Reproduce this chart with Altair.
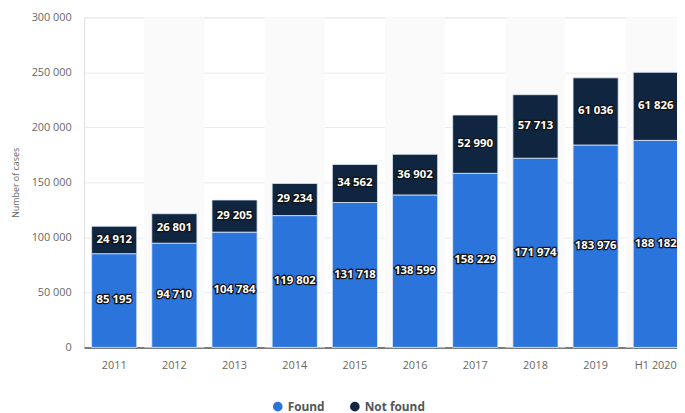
import altair as alt
import pandas as pd

years = ["2011", "2012", "2013", "2014", "2015", "2016", "2017", "2018", "2019", "H1 2020"]
found = [85195, 94710, 104784, 119802, 131718, 138599, 158229, 171974, 183976, 188182]
not_found = [24912, 26801, 29205, 29234, 34562, 36902, 52990, 57713, 61036, 61826]
shaded = ["2012", "2014", "2016", "2018", "H1 2020"]
y_ticks = [0, 50000, 100000, 150000, 200000, 250000, 300000]

def fmt(v):
    return f"{v:,}".replace(",", " ")

rows = []
for y, f, n in zip(years, found, not_found):
    rows.append({"year": y, "series": "Found", "value": f, "order": 0, "mid": f / 2, "label": fmt(f)})
    rows.append({"year": y, "series": "Not found", "value": n, "order": 1, "mid": f + n / 2, "label": fmt(n)})
df = pd.DataFrame(rows)
stripes = pd.DataFrame({"year": shaded})

W, H = 600, 334
XR = [0, 609]

xs = alt.X("year:N", sort=years,
           scale=alt.Scale(domain=years, paddingInner=0.25, paddingOuter=0.125, range=XR),
           axis=alt.Axis(title=None, labelAngle=0, labelColor="#666", labelFont="Open Sans",
                         labelFontSize=11, domain=True, domainColor="#555", domainWidth=1.5,
                         ticks=False, labelPadding=12))

stripe_layer = alt.Chart(stripes).mark_rect(color="#fafafa").encode(
    x=alt.X("year:N", scale=alt.Scale(domain=years, paddingInner=0, paddingOuter=0, range=XR), axis=None),
    y=alt.value(0), y2=alt.value(H)
)

ys = alt.Y("value:Q", stack="zero",
           scale=alt.Scale(domain=[0, 300000], nice=False),
           axis=alt.Axis(title="Number of cases", values=y_ticks,
                         labelExpr="replace(format(datum.value, ','), regexp(',', 'g'), ' ')",
                         labelColor="#666", labelFont="Open Sans", labelFontSize=11,
                         titleColor="#666", titleFont="Open Sans", titleFontSize=9,
                         titleFontWeight="normal", titlePadding=11,
                         domain=False, ticks=False, gridColor="#ececec", labelPadding=13))

bars = alt.Chart(df).mark_bar(stroke="#dfe9f7", strokeWidth=0.8).encode(
    x=xs, y=ys,
    color=alt.Color("series:N", sort=["Found", "Not found"],
                    scale=alt.Scale(domain=["Found", "Not found"], range=["#2b74dc", "#0f2540"]),
                    legend=alt.Legend(title=None, orient="none", legendX=190, legendY=388,
                                      direction="horizontal", symbolType="circle", symbolSize=95,
                                      labelFont="Open Sans", labelFontSize=12, labelFontWeight="bold",
                                      labelColor="#555", columnPadding=24, symbolStrokeWidth=0)),
    order=alt.Order("order:Q")
)

ymid = alt.Y("mid:Q", scale=alt.Scale(domain=[0, 300000], nice=False))
xt = alt.X("year:N", sort=years)
shadow = alt.Chart(df).mark_text(font="Open Sans", fontWeight="bold", fontSize=11.5,
                                 color="#111", stroke="#111", strokeWidth=2.5).encode(
    x=xt, y=ymid, text="label:N")
labels = alt.Chart(df).mark_text(font="Open Sans", fontWeight="bold", fontSize=11.5,
                                 color="white").encode(
    x=xt, y=ymid, text="label:N")

main = alt.layer(bars, shadow, labels)

chart = alt.layer(stripe_layer, main).resolve_scale(x="independent").properties(
    width=W, height=H,
    autosize="none",
    padding={"left": 77, "top": 7, "right": 0, "bottom": 70},
).configure_view(stroke=None).configure(background="white")

chart.save("out.html", embed_options={"renderer": "svg", "actions": False})
